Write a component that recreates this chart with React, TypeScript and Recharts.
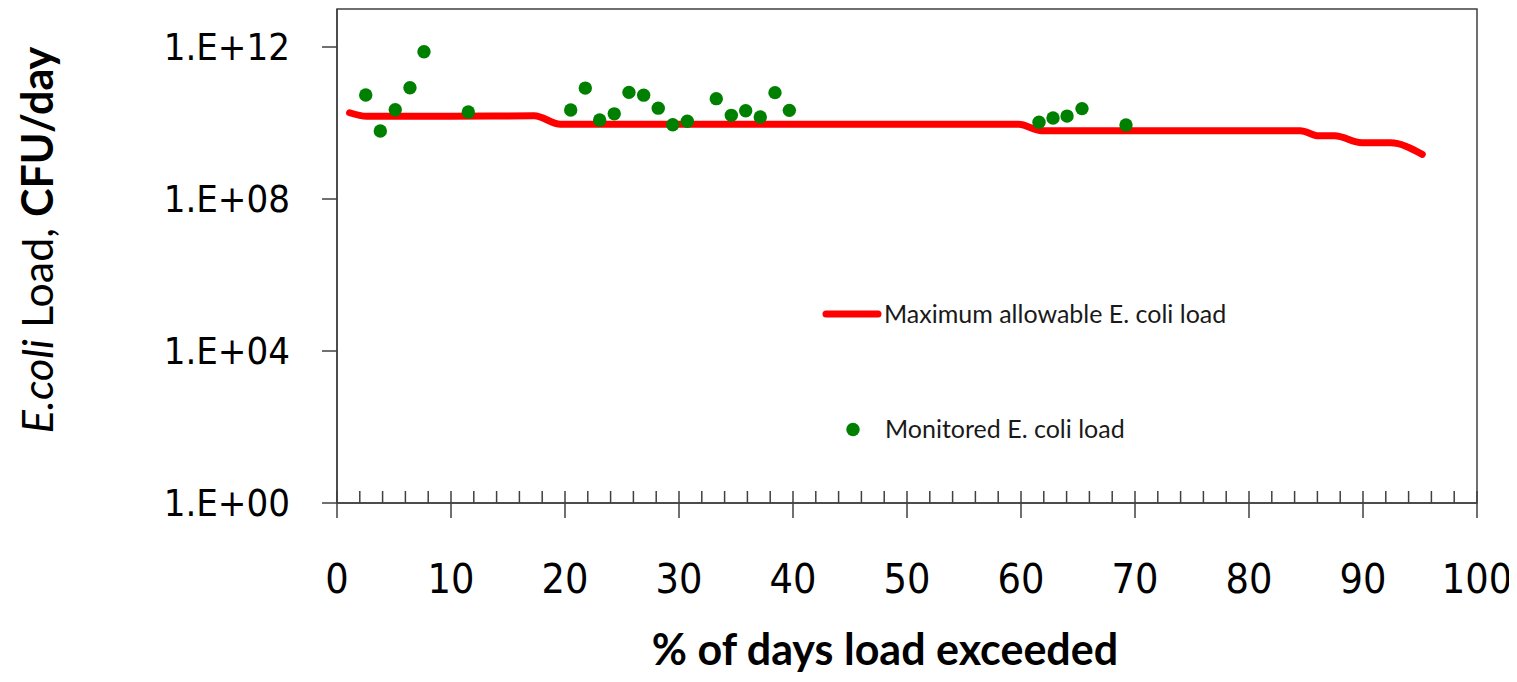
import React from 'react';
import {
  ComposedChart,
  Line,
  Scatter,
  XAxis,
  YAxis,
  ReferenceArea,
  Legend,
  Label,
} from 'recharts';

// Load duration curve: % of days the load is exceeded vs. maximum allowable load (CFU/day)
const curvePercent = [1.1, 2.6, 10, 17.3, 19.6, 40, 59.8, 61.8, 75, 84.5, 86.1, 87.5, 89.9, 92.4, 95.2];
const curveLoad = [1.86e10, 1.5e10, 1.5e10, 1.55e10, 9.3e9, 9.3e9, 9.3e9, 6.3e9, 6.3e9, 6.3e9, 4.6e9, 4.6e9, 3.0e9, 3.0e9, 1.5e9];

// Monitored samples
const samplePercent = [
  2.52, 3.8, 5.11, 6.4, 7.63, 11.52, 20.5, 21.78, 23.04, 24.32, 25.61, 26.9, 28.18,
  29.45, 30.73, 33.27, 34.59, 35.85, 37.13, 38.42, 39.68, 61.58, 62.81, 64.04, 65.35, 69.21,
];
const sampleLoad = [
  5.46e10, 6.15e9, 2.24e10, 8.5e10, 7.5e11, 1.95e10, 2.2e10, 8.3e10, 1.2e10, 1.74e10, 6.4e10,
  5.4e10, 2.46e10, 9.0e9, 1.11e10, 4.37e10, 1.59e10, 2.1e10, 1.44e10, 6.3e10, 2.15e10, 1.05e10,
  1.35e10, 1.52e10, 2.39e10, 8.9e9,
];

const xTicks = [
  0, 2, 4, 6, 8, 10, 12, 14, 16, 18, 20, 22, 24, 26, 28, 30, 32, 34, 36, 38, 40, 42, 44, 46, 48,
  50, 52, 54, 56, 58, 60, 62, 64, 66, 68, 70, 72, 74, 76, 78, 80, 82, 84, 86, 88, 90, 92, 94, 96,
  98, 100,
];
const xLabelled = [0, 10, 20, 30, 40, 50, 60, 70, 80, 90, 100];
const yTicks = [1, 1e4, 1e8, 1e12];

const curveData = curvePercent.map((x, i) => ({ x, load: curveLoad[i] }));
const sampleData = samplePercent.map((x, i) => ({ x, load: sampleLoad[i] }));

const AXIS = '#404040';
const TICK_FONT = "'DejaVu Sans Condensed', 'DejaVu Sans', sans-serif";
const TEXT_FONT = "Lato, 'Open Sans', sans-serif";

const formatLog = (v: number) => {
  const p = Math.round(Math.log10(v));
  return `1.E+${String(p).padStart(2, '0')}`;
};

const XTick = (props: any) => {
  const { x, y, payload } = props;
  const major = xLabelled.includes(payload.value);
  return (
    <g>
      <line x1={x} x2={x} y1={y - 12} y2={major ? y + 15 : y} stroke={AXIS} strokeWidth={1.5} />
      {major && (
        <text x={x} y={y + 90} textAnchor="middle" fontFamily={TICK_FONT} fontSize={41} fill="#000">
          {payload.value}
        </text>
      )}
    </g>
  );
};

const XTitle = () => (
  <text x={885} y={665} textAnchor="middle" fontFamily={TEXT_FONT} fontSize={43} fontWeight={700} fill="#000">
    % of days load exceeded
  </text>
);

const YTitle = () => (
  <text
    transform="translate(53, 240) rotate(-90)"
    textAnchor="middle"
    fontFamily={TEXT_FONT}
    fontSize={43}
    fill="#000"
  >
    <tspan fontStyle="italic">E.coli</tspan>
    <tspan> Load, </tspan>
    <tspan fontWeight={700}>CFU/day</tspan>
  </text>
);

const LegendBox = () => (
  <svg width={440} height={160}>
    <line x1={8} x2={60} y1={24} y2={24} stroke="#ff0000" strokeWidth={7} strokeLinecap="round" />
    <text x={66} y={32.5} fontFamily={TEXT_FONT} fontSize={25} fill="#1a1a1a">
      Maximum allowable E. coli load
    </text>
    <circle cx={35} cy={139.5} r={6.7} fill="#008000" />
    <text x={67} y={148} fontFamily={TEXT_FONT} fontSize={25} fill="#1a1a1a">
      Monitored E. coli load
    </text>
  </svg>
);

export default function App() {
  return (
    <div style={{ margin: '-8px 0 -8px -8px', width: 1517, height: 682, background: '#fff', overflow: 'visible' }}>
      <ComposedChart
        width={1517}
        height={682}
        margin={{ top: 9, right: 40, bottom: 0, left: 0 }}
        style={{ overflow: 'visible' }}
      >
        <XAxis
          type="number"
          dataKey="x"
          domain={[0, 100]}
          ticks={xTicks}
          interval={0}
          allowDataOverflow
          height={179}
          axisLine={{ stroke: AXIS, strokeWidth: 1.5 }}
          tickLine={false}
          tickSize={0}
          tickMargin={0}
          tick={<XTick />}
        >
          <Label content={<XTitle />} />
        </XAxis>
        <YAxis
          scale="log"
          domain={[1, 1e13]}
          ticks={yTicks}
          interval={0}
          allowDataOverflow
          width={337}
          axisLine={{ stroke: AXIS, strokeWidth: 1.5 }}
          tickLine={{ stroke: AXIS, strokeWidth: 1.5 }}
          tickSize={15}
          tickMargin={32}
          tickFormatter={formatLog}
          tick={{ fontFamily: TICK_FONT, fontSize: 38, fill: '#000' }}
        >
          <Label content={<YTitle />} />
        </YAxis>
        <ReferenceArea
          x1={0}
          x2={100}
          y1={1}
          y2={1e13}
          fill="none"
          stroke={AXIS}
          strokeWidth={1.5}
          ifOverflow="visible"
        />
        <Line
          data={curveData}
          dataKey="load"
          type="monotone"
          stroke="#ff0000"
          strokeWidth={7}
          strokeLinecap="round"
          strokeLinejoin="round"
          dot={false}
          activeDot={false}
          isAnimationActive={false}
          legendType="line"
          name="Maximum allowable E. coli load"
        />
        <Scatter
          data={sampleData}
          dataKey="load"
          fill="#008000"
          isAnimationActive={false}
          name="Monitored E. coli load"
          shape={(p: any) => <circle cx={p.cx} cy={p.cy} r={6.7} fill="#008000" />}
        />
        <Legend
          layout="vertical"
          align="center"
          verticalAlign="middle"
          content={<LegendBox />}
          wrapperStyle={{ position: 'absolute', left: 818, top: 290, width: 440, height: 160 }}
        />
      </ComposedChart>
    </div>
  );
}
